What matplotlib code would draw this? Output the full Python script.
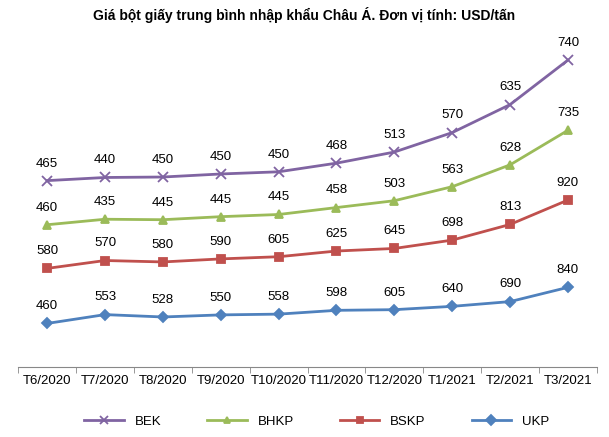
import matplotlib
matplotlib.use("Agg")
import matplotlib.pyplot as plt
import numpy as np

months = ["T6/2020","T7/2020","T8/2020","T9/2020","T10/2020","T11/2020","T12/2020","T1/2021","T2/2021","T3/2021"]
ukp  = [460,553,528,550,558,598,605,640,690,840]
bskp = [580,570,580,590,605,625,645,698,813,920]
bhkp = [460,435,445,445,445,458,503,563,628,735]
bek  = [465,440,450,450,450,468,513,570,635,740]

plt.rcParams['font.family'] = ['Liberation Sans', 'DejaVu Sans']
fig = plt.figure(figsize=(6.09,4.37), dpi=100)
ax = fig.add_axes([0.03,0.16,0.95,0.76])
x = np.arange(len(months))
series = [("UKP", ukp, "#4F81BD", "D"), ("BSKP", bskp, "#C0504D", "s"),
          ("BHKP", bhkp, "#9BBB59", "^"), ("BEK", bek, "#8064A2", "x")]
cum = np.zeros(len(months))
handles = {}
for name, vals, c, m in series:
    cum = cum + np.array(vals)
    h, = ax.plot(x, cum, color=c, lw=2.0, marker=m, ms=5.5 if m!="x" else 6.5,
                 mew=1.3, label=name)
    handles[name] = h
    for xi, yi, v in zip(x, cum, vals):
        ax.annotate(str(v), (xi, yi), xytext=(0, 8), textcoords="offset points",
                    ha="center", va="bottom", fontsize=9.5)
ax.set_xlim(-0.5, 9.5)
ax.set_ylim(0, 3500)
ax.set_xticks(x)
ax.set_xticklabels(months, fontsize=9.5)
ax.set_yticks([])
for s in ["top","right","left"]:
    ax.spines[s].set_visible(False)
ax.spines["bottom"].set_color("#888888")
ax.set_xticks(np.arange(-0.5, 10, 1), minor=True)
ax.tick_params(axis="x", which="major", length=0, pad=6)
ax.tick_params(axis="x", which="minor", length=4, color="#888888")
fig.text(0.5, 0.965, "Giá bột giấy trung bình nhập khẩu Châu Á. Đơn vị tính: USD/tấn",
         ha="center", va="center", fontsize=10, fontweight="bold")
fig.legend([handles[n] for n in ["BEK","BHKP","BSKP","UKP"]], ["BEK","BHKP","BSKP","UKP"],
           loc="center", bbox_to_anchor=(0.52, 0.035), ncol=4, frameon=False,
           fontsize=9.5, handlelength=3.0, columnspacing=3.5, markerscale=0.9)
fig.savefig("out.png", dpi=100)
